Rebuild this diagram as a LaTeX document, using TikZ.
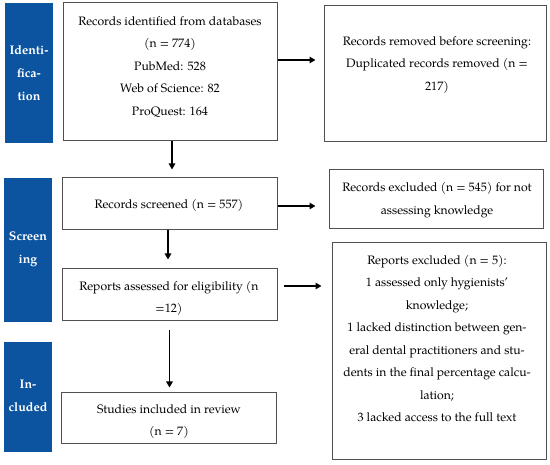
\documentclass[tikz,border=0pt]{standalone}
\usepackage{fontspec}
\setmainfont{TeX Gyre Pagella}
\usetikzlibrary{arrows.meta,calc}
\definecolor{phaseblue}{RGB}{12,84,160}
\definecolor{boxgray}{RGB}{80,80,80}
\begin{document}
\begin{tikzpicture}[x=1pt,y=-1pt,
  box/.style={draw=boxgray,line width=1pt,rectangle,inner sep=0pt},
  phase/.style={fill=phaseblue,draw=none,rectangle,inner sep=0pt},
  txt/.style={align=center,font=\fontsize{12.2}{22.5}\selectfont,inner sep=0pt},
  ptxt/.style={align=center,text=white,font=\fontsize{12.5}{23}\selectfont\bfseries,inner sep=0pt},
  flow/.style={line width=1.9pt,-{Triangle[length=6pt,width=6.5pt]}}]
\useasboundingbox (0,0) rectangle (550,465);
% phase bars
\node[phase,minimum width=48pt,minimum height=140pt] (p1) at (29,73) {};
\node[phase,minimum width=48pt,minimum height=144pt] (p2) at (28,250) {};
\node[phase,minimum width=48pt,minimum height=110pt] (p3) at (28,397) {};
\node[ptxt] at (p1.center) {Identi-\\fica-\\tion};
\node[ptxt] at ([yshift=1]p2.center) {Screen\\ing};
\node[ptxt] at ([yshift=1]p3.center) {In-\\cluded};
% boxes
\node[box,minimum width=214pt,minimum height=138pt] (b1) at (170,72) {};
\node[box,minimum width=222pt,minimum height=136pt] (b2) at (435,74) {};
\node[box,minimum width=215pt,minimum height=52pt] (b3) at (169.5,204) {};
\node[box,minimum width=214pt,minimum height=59pt] (b4) at (436,199.5) {};
\node[box,minimum width=215pt,minimum height=52pt] (b5) at (169.5,295) {};
\node[box,minimum width=214pt,minimum height=217pt] (b6) at (439,351.5) {};
\node[box,minimum width=215pt,minimum height=51pt] (b7) at (169,418.5) {};
% texts
\node[txt] at (170,67) {Records identified from databases\\(n = 774)\\PubMed: 528\\Web of Science: 82\\ProQuest: 164};
\node[txt] at (437,65) {Records removed before screening:\\Duplicated records removed (n =\\217)};
\node[txt] at (169,205) {Records screened (n = 557)};
\node[txt] at (437,200) {Records excluded (n = 545) for not\\assessing knowledge};
\node[txt] at (169,298.5) {Reports assessed for eligibility (n\\=12)};
\node[txt] at (437,338.5) {Reports excluded (n = 5):\\1 assessed only hygienists'\\knowledge;\\1 lacked distinction between gen-\\eral dental practitioners and stu-\\dents in the final percentage calcu-\\lation;\\3 lacked access to the full text};
\node[txt] at (169,421.5) {Studies included in review\\(n = 7)};
% connectors
\draw[flow,shorten >=8pt] ([yshift=12]b1.east) -- ([yshift=12]b1.east -| b2.west);
\draw[flow,shorten >=8pt] ([xshift=2]b1.south) -- ([xshift=2]b1.south |- b3.north);
\draw[flow,shorten >=13pt] ([yshift=-2]b3.east) -- ([yshift=-2]b3.east -| b4.west);
\draw[flow,shorten >=9pt] ([xshift=-1.5]b3.south) -- ([xshift=-1.5]b3.south |- b5.north);
\draw[flow,shorten <=6pt,shorten >=10pt] ([yshift=9]b5.east) -- ([yshift=9]b5.east -| b6.west);
\draw[flow,shorten <=9pt,shorten >=5pt] (b5.south) -- (b5.south |- b7.north);
\end{tikzpicture}
\end{document}
